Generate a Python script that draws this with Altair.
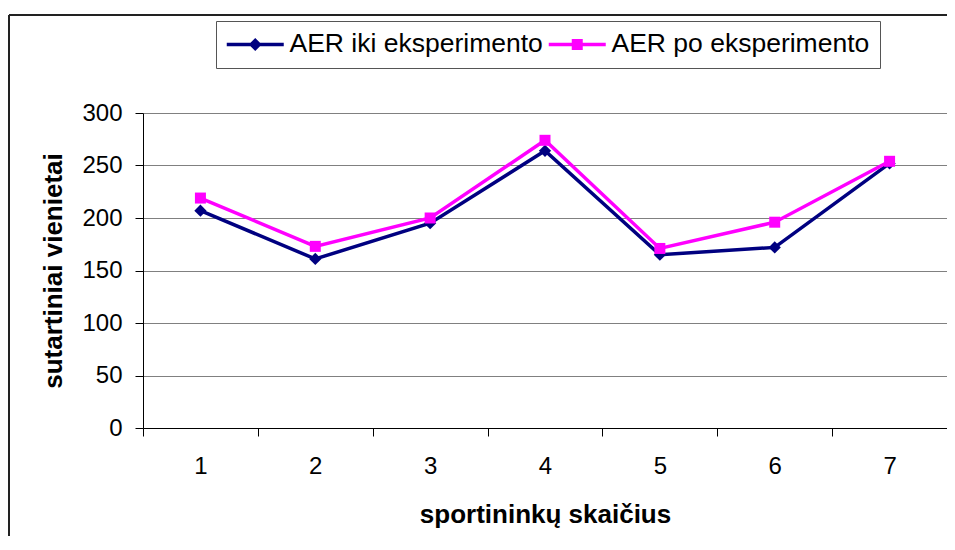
import altair as alt
import pandas as pd

categories = ["1", "2", "3", "4", "5", "6", "7"]
aer_iki = [207, 161, 195, 264, 165, 172, 252]
aer_po = [219, 173, 200, 274, 171, 196, 254]
series_names = ["AER iki eksperimento", "AER po eksperimento"]
series_colors = ["#000080", "#FF00FF"]
y_ticks = [0, 50, 100, 150, 200, 250, 300]

rows = []
for c, a, b in zip(categories, aer_iki, aer_po):
    rows.append({"k": c, "v": a, "s": series_names[0]})
    rows.append({"k": c, "v": b, "s": series_names[1]})
df = pd.DataFrame(rows)

FONT = "Liberation Sans"
W, H = 804, 315

x_enc = alt.X(
    "k:O",
    scale=alt.Scale(type="band", domain=categories, paddingInner=0, paddingOuter=0),
    axis=alt.Axis(
        title="sportininkų skaičius", labelAngle=0, tickBand="extent", tickSize=8,
        tickColor="#000000", domainColor="#000000", labelFontSize=24, labelPadding=18,
        labelColor="#000000", titleFontSize=26, titleFontWeight="bold", titlePadding=23,
        titleColor="#000000", grid=False,
    ),
)
y_enc = alt.Y(
    "v:Q",
    scale=alt.Scale(domain=[0, 300], nice=False, zero=True),
    axis=alt.Axis(
        title="sutartiniai vienietai", values=y_ticks, tickSize=8, tickColor="#000000",
        domainColor="#000000", labelFontSize=24, labelPadding=13, labelColor="#000000",
        titleFontSize=26, titleFontWeight="bold", titlePadding=15, titleColor="#000000",
        grid=True, gridColor="#808080", gridWidth=1,
    ),
)

one = pd.DataFrame({"a": [0]})
frame_left = alt.Chart(one).mark_rule(color="#222222", strokeWidth=2).encode(
    x=alt.value(-134), y=alt.value(-98), y2=alt.value(H + 150)
)
frame_top = alt.Chart(one).mark_rule(color="#222222", strokeWidth=2).encode(
    x=alt.value(-134), x2=alt.value(W), y=alt.value(-98)
)

layers = [frame_left, frame_top]
shapes = ["diamond", "square"]
sizes = [150, 121]
for name, color, shp, sz in zip(series_names, series_colors, shapes, sizes):
    sub = alt.Chart(df).transform_filter(alt.datum.s == name)
    layers.append(sub.mark_line(color=color, strokeWidth=3.5).encode(x=x_enc, y=y_enc))
    layers.append(
        sub.mark_point(shape=shp, filled=True, color=color, size=sz, opacity=1).encode(x=x_enc, y=y_enc)
    )

# legend symbols: a line segment with the series marker, in units of sqrt(size)/2 = 12.5 px
path_d = ("M-2.28,-0.14L-0.38,-0.14L0,-0.52L0.38,-0.14L2.28,-0.14L2.28,0.14"
          "L0.38,0.14L0,0.52L-0.38,0.14L-2.28,0.14Z")
path_s = ("M-2.28,-0.14H-0.44V-0.44H0.44V-0.14H2.28V0.14H0.44V0.44H-0.44V0.14H-2.28Z")

leg = alt.Legend(
    orient="none", legendX=73, legendY=-92, direction="horizontal", title=None,
    strokeColor="#555555", padding=10, symbolSize=625, symbolStrokeWidth=0,
    symbolOffset=16, labelOffset=21,
    labelFontSize=26.5, labelLimit=500, columnPadding=5,
    labelColor="#000000", fillColor="#ffffff",
)
legend_layer = alt.Chart(df).transform_filter("false").mark_point(filled=True, opacity=1).encode(
    fill=alt.Fill("s:N", scale=alt.Scale(domain=series_names, range=series_colors), legend=leg),
    shape=alt.Shape("s:N", scale=alt.Scale(domain=series_names, range=[path_d, path_s]), legend=leg),
)
layers.append(legend_layer)

chart = alt.layer(*layers).properties(
    width=W, height=H,
    autosize=alt.AutoSizeParams(type="none"),
    padding={"left": 135, "top": 105, "right": 0, "bottom": 108},
).configure(font=FONT).configure_view(stroke=None)

chart.save("out.html", embed_options={"renderer": "svg", "actions": False})
